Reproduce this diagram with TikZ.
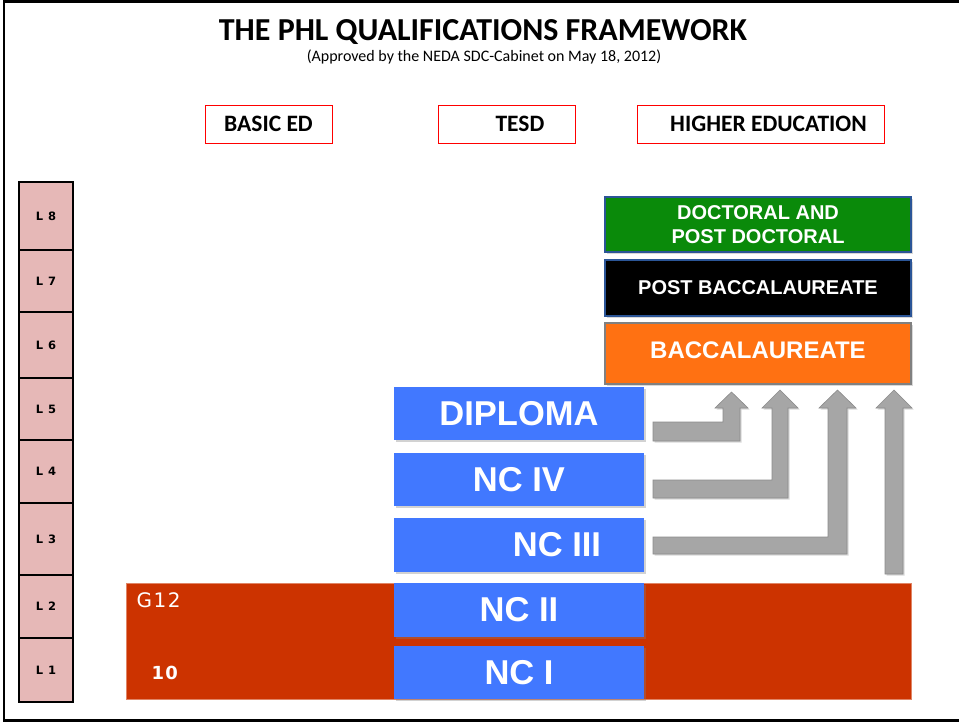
\documentclass[tikz,border=0pt]{standalone}
\usepackage{fontspec}
\setmainfont{Carlito}
\newfontfamily\arialb{Liberation Sans}[Scale=1.0]
\newfontfamily\levfont{DejaVu Sans}[LetterSpace=8]
\newfontfamily\gfont{DejaVu Sans}[LetterSpace=8]
\usetikzlibrary{shadows}
\definecolor{lvlpink}{HTML}{E6B8B7}
\definecolor{bandred}{HTML}{CC3300}
\definecolor{ncblue}{HTML}{4178FF}
\definecolor{docgreen}{HTML}{0A8A0A}
\definecolor{bacorange}{HTML}{FF7112}
\definecolor{edgeblue}{HTML}{2B5597}
\definecolor{arrgray}{HTML}{A6A6A6}
\definecolor{arredge}{HTML}{8C8C8C}
\tikzset{
  lvl/.style={draw=black, line width=2.8pt, fill=lvlpink, minimum width=54pt, inner sep=0pt,
    font=\levfont\bfseries\fontsize{11.5}{13}\selectfont},
  hdr/.style={draw=red, line width=0.8pt, fill=white, minimum height=38pt, inner sep=0pt,
    font=\bfseries\fontsize{23.5}{26}\selectfont},
  ncbox/.style={fill=ncblue, minimum width=250pt, inner sep=0pt, text=white,
    drop shadow={shadow xshift=2pt, shadow yshift=-2pt, opacity=0.35},
    font=\arialb\bfseries\fontsize{34.5}{36}\selectfont},
  hebox/.style={minimum width=306pt, inner sep=0pt, text=white, line width=2pt, align=center,
    drop shadow={shadow xshift=2pt, shadow yshift=-2pt, opacity=0.3}},
  grayarrow/.style={fill=arrgray, draw=arredge, line width=0.6pt,
    drop shadow={shadow xshift=1.5pt, shadow yshift=-1.5pt, opacity=0.3}},
  band/.style={fill=bandred, draw=bandred!60!white, line width=0.6pt, minimum width=785pt, minimum height=116pt, inner sep=0pt}
}
\begin{document}
\begin{tikzpicture}[x=1pt,y=-1pt]
\useasboundingbox (0,0) rectangle (959,722);
\fill[white] (0,0) rectangle (959,722);
% frame
\draw[line width=3pt] (4,1.5) -- (959,1.5);
\draw[line width=2pt] (4,0) -- (4,721);
\draw[line width=2.5pt] (3,720.5) -- (959,720.5);
% title
\node[font=\bfseries\fontsize{32}{34}\selectfont] (title) at (483,32) {THE PHL QUALIFICATIONS FRAMEWORK};
\node[font=\fontsize{16}{18}\selectfont] (sub) at (484,57) {(Approved by the NEDA SDC-Cabinet on May 18, 2012)};
% headers
\node[hdr, minimum width=127pt] (hbasic) at (268.5,124) {BASIC ED};
\node[hdr, minimum width=137pt] (htesd) at (506.5,124) {\hspace*{27pt}TESD};
\node[hdr, minimum width=247pt] (hhigh) at (760.5,124) {\hspace*{16pt}HIGHER EDUCATION};
% levels
\node[lvl, minimum height=68pt] (L8) at (46,216) {L 8};
\node[lvl, minimum height=62pt] (L7) at (46,281) {L 7};
\node[lvl, minimum height=66pt] (L6) at (46,345) {L 6};
\node[lvl, minimum height=62pt] (L5) at (46,409) {L 5};
\node[lvl, minimum height=63pt] (L4) at (46,471.5) {L 4};
\node[lvl, minimum height=72pt] (L3) at (46,539) {L 3};
\node[lvl, minimum height=63pt] (L2) at (46,606.5) {L 2};
\node[lvl, minimum height=64pt] (L1) at (46,670) {L 1};
% red band
\node[band] (band) at (518.5,641) {};
\node[anchor=west, text=white, font=\gfont\fontsize{20}{22}\selectfont] (g12) at (133,600) {G12};
\node[anchor=west, text=white, font=\gfont\bfseries\fontsize{18}{20}\selectfont] (g10) at (148,673) {10};
% blue boxes
\node[ncbox, minimum height=53pt] (dip) at (519,413.5) {DIPLOMA};
\node[ncbox, minimum height=53pt] (nc4) at (519,479.5) {NC IV};
\node[ncbox, minimum height=54pt] (nc3) at (519,545) {\hspace*{76pt}NC III};
\node[ncbox, minimum height=54pt] (nc2) at (519,610) {NC II};
\node[ncbox, minimum height=53pt] (nc1) at (519,672.5) {NC I};
% higher education boxes
\node[hebox, fill=docgreen, draw=edgeblue, minimum height=55pt,
  font=\arialb\bfseries\fontsize{20}{24}\selectfont] (doc) at (758,224.5) {DOCTORAL AND\\POST DOCTORAL};
\node[hebox, fill=black, draw=edgeblue, minimum height=56pt,
  font=\arialb\bfseries\fontsize{20}{22}\selectfont] (pbac) at (758,288) {POST BACCALAUREATE};
\node[hebox, fill=bacorange, draw=gray, minimum height=61pt,
  font=\arialb\bfseries\fontsize{24}{25}\selectfont] (bac) at (758,353.5) {\raisebox{6pt}{BACCALAUREATE}};
% gray arrows
\draw[grayarrow] (653,422) -- (723,422) -- (723,408) -- (715,408) -- (731.5,392) -- (748,408) -- (740,408) -- (740,441) -- (653,441) -- cycle;
\draw[grayarrow] (653,480) -- (772,480) -- (772,408) -- (762,408) -- (780,390) -- (798,408) -- (788,408) -- (788,498) -- (653,498) -- cycle;
\draw[grayarrow] (653,537) -- (828,537) -- (828,408) -- (819,408) -- (837.5,390) -- (856,408) -- (847,408) -- (847,554) -- (653,554) -- cycle;
\draw[grayarrow] (885,574) -- (885,408) -- (876,408) -- (894,390) -- (912,408) -- (903,408) -- (903,574) -- cycle;
\end{tikzpicture}
\end{document}
